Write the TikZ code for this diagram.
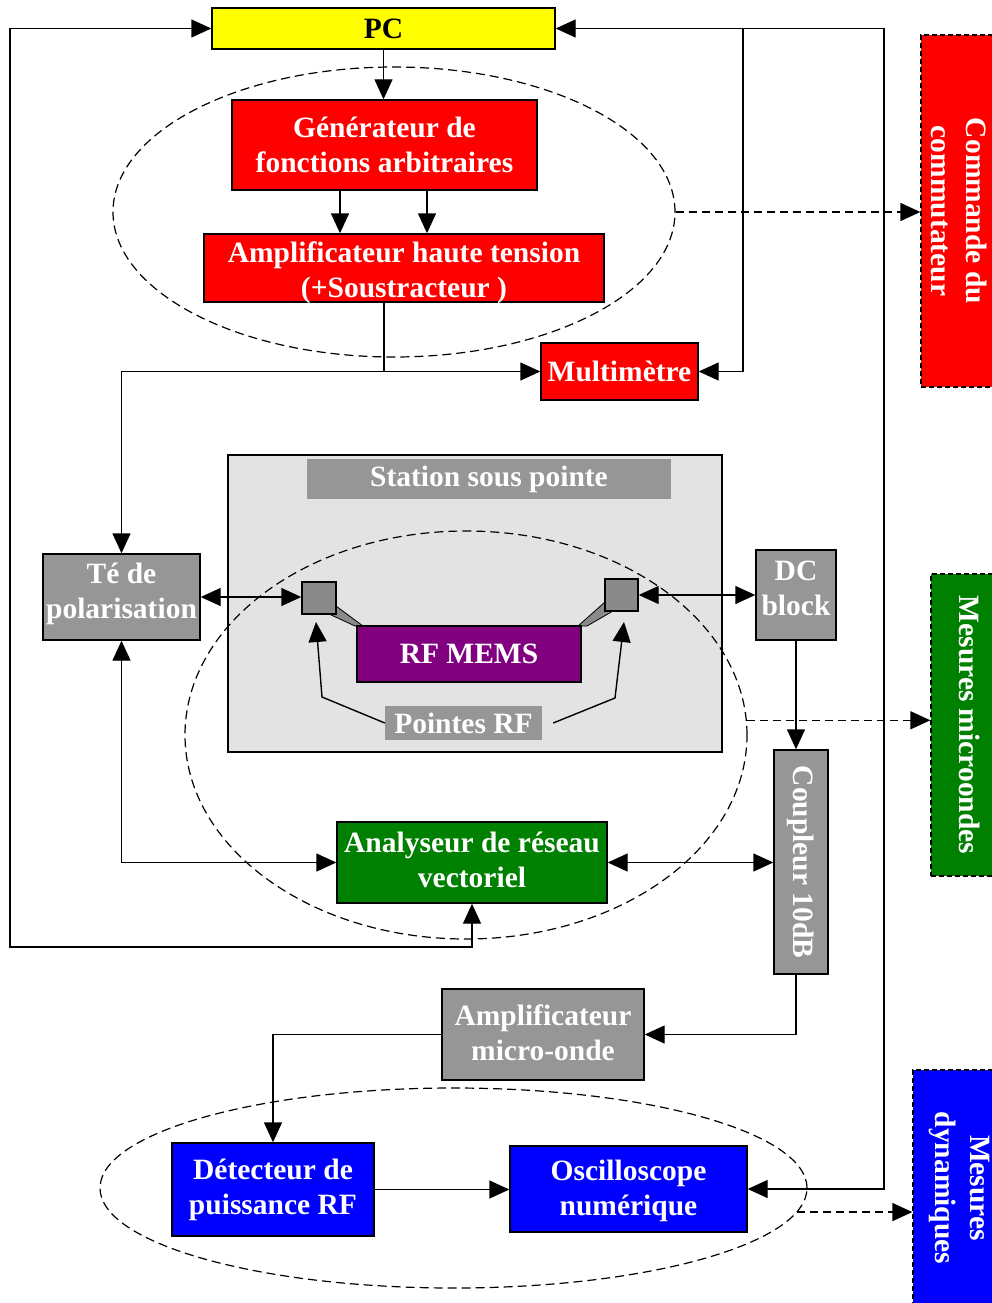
\documentclass[tikz,border=0pt]{standalone}
\usepackage{fontspec}
\setmainfont{Liberation Serif}
\usetikzlibrary{arrows.meta,shapes.geometric}
\definecolor{cyellow}{HTML}{FFFF00}
\definecolor{cred}{HTML}{FF0000}
\definecolor{cgray}{HTML}{969696}
\definecolor{clight}{HTML}{E3E3E3}
\definecolor{csq}{HTML}{8A8A8A}
\definecolor{cpurple}{HTML}{800080}
\definecolor{cgreen}{HTML}{008000}
\definecolor{cblue}{HTML}{0000FF}
\begin{document}
\begin{tikzpicture}[x=1pt,y=-1pt,
  every node/.style={font=\fontsize{29.5}{35}\selectfont\bfseries, align=center, inner sep=0pt},
  box/.style={draw=black, line width=1.4pt, rectangle},
  wtext/.style={text=white},
  ln/.style={line width=1.4pt},
  tip/.style={-{Triangle[length=20pt,width=18pt]}},
  arr/.style={tip, line width=1.4pt},
  darr/.style={{Triangle[length=20pt,width=18pt]}-{Triangle[length=20pt,width=18pt]}, line width=1.4pt},
  dsh/.style={dash pattern=on 8pt off 5pt, line width=1.5pt},
  ell/.style={draw, ellipse, dash pattern=on 9pt off 5pt, line width=1.2pt},
  side/.style={draw=black, dash pattern=on 5pt off 3pt, line width=1.3pt, rectangle}]
\useasboundingbox (0,0) rectangle (991,1303);
\fill[white] (0,0) rectangle (991,1303);

% station
\node[box, fill=clight, minimum width=494pt, minimum height=297pt] (station) at (475,603.5) {};
\node[fill=cgray, wtext, minimum width=364pt, minimum height=40pt] (stlabel) at (489,479) {Station sous pointe};

% ellipses
\node[ell, minimum width=562pt, minimum height=290pt] (e1) at (394,212) {};
\node[ell, minimum width=562pt, minimum height=408pt] (e2) at (466,735) {};
\node[ell, minimum width=707pt, minimum height=200pt] (e3) at (453.5,1188) {};

% boxes
\node[box, fill=cyellow, minimum width=343pt, minimum height=41pt] (pc) at (383.5,28.5) {PC};
\node[box, fill=cred, wtext, minimum width=305pt, minimum height=90pt] (gen) at (384.5,145) {Générateur de\\fonctions arbitraires};
\node[box, fill=cred, minimum width=400pt, minimum height=68pt] (amp) at (404,268) {};
\node[wtext] (amptext) at (404,273) {Amplificateur haute tension\\(+Soustracteur )};
\node[box, fill=cred, wtext, minimum width=157pt, minimum height=57pt] (multi) at (619.5,371.5) {Multimètre};
\node[box, fill=cgray, minimum width=157pt, minimum height=86pt] (te) at (121.5,597) {};
\node[wtext] (tetext) at (121.5,594) {Té de\\polarisation};

% wedges
\filldraw[fill=csq, draw=black, line width=0.8pt] (329,614) -- (336,606) -- (363,626) -- (355,626) -- cycle;
\filldraw[fill=csq, draw=black, line width=0.8pt] (605,602) -- (613,611) -- (587,626) -- (578,626) -- cycle;
\node[box, fill=csq, minimum width=34pt, minimum height=32pt] (sqL) at (319,598) {};
\node[box, fill=csq, minimum width=33pt, minimum height=32pt] (sqR) at (621.5,595) {};
\node[box, fill=cpurple, wtext, minimum width=224pt, minimum height=56pt] (mems) at (469,654) {RF MEMS};
\node[fill=cgray, wtext, minimum width=157pt, minimum height=34pt] (pointes) at (463.5,723) {Pointes RF};

\node[box, fill=cgray, minimum width=80pt, minimum height=90pt] (dcb) at (796,595) {};
\node[wtext] (dcbtext) at (796,588) {DC\\block};
\node[box, fill=cgray, minimum width=54pt, minimum height=224pt] (coup) at (801,862) {};
\node[rotate=-90, wtext] (couptext) at (coup.center) {Coupleur 10dB};
\node[box, fill=cgreen, minimum width=270pt, minimum height=81pt] (vna) at (472,862.5) {};
\node[wtext] (vnatext) at (472,859.5) {Analyseur de réseau\\vectoriel};
\node[box, fill=cgray, minimum width=202pt, minimum height=91pt] (ampmo) at (543,1034.5) {};
\node[wtext] (ampmotext) at (543,1032.5) {Amplificateur\\micro-onde};
\node[box, fill=cblue, wtext, minimum width=202pt, minimum height=93pt] (det) at (273,1189.5) {Détecteur de\\puissance RF};
\node[box, fill=cblue, minimum width=237pt, minimum height=86pt] (osc) at (628.5,1189) {};
\node[wtext] (osctext) at (628.5,1191) {Oscilloscope\\numérique};

% side boxes
\node[side, fill=cred, minimum width=80pt, minimum height=352pt] (cmdbox) at (961,211) {};
\node[rotate=-90, wtext] (cmdtext) at (959,211) {Commande du\\commutateur};
\node[side, fill=cgreen, minimum width=80pt, minimum height=302pt] (mesbox) at (971,725) {};
\node[rotate=-90, wtext] (mestext) at (970,725) {Mesures microondes};
\node[side, fill=cblue, minimum width=84pt, minimum height=240pt] (dynbox) at (955,1190) {};
\node[rotate=-90, wtext] (dyntext) at (959,1188) {Mesures\\dynamiques};

% coordinates
\coordinate (j1) at (384,371.5);
\coordinate (r1) at (884,28.5);
\coordinate (r2) at (743,28.5);
\coordinate (l1) at (10,947);
\coordinate (pl) at (322,697);
\coordinate (tl) at (316,622);
\coordinate (pr) at (615,698);
\coordinate (tr) at (624,622);

% connectors
\draw[arr] (pc.south) -- (pc.south |- gen.north);
\draw[arr] ([xshift=-44.5pt]gen.south) -- ([xshift=-44.5pt]gen.south |- amp.north);
\draw[arr] ([xshift=42.5pt]gen.south) -- ([xshift=42.5pt]gen.south |- amp.north);
\draw[ln] ([xshift=-20pt]amp.south) -- (j1);
\draw[arr] (j1) -| (te.north);
\draw[arr] (j1) -- (multi.west);
\draw[arr] (r1) -- (pc.east);
\draw[arr] (r2) |- (multi.east);
\draw[arr] (r1) |- (osc.east);
\draw[darr] (pc.west) -| (l1) -| (vna.south);
\draw[darr] (te.east) -- (te.east -| sqL.west);
\draw[darr] (sqR.east) -- (sqR.east -| dcb.west);
\draw[arr] (dcb.south) -- (dcb.south |- coup.north);
\draw[darr] (vna.east) -- (vna.east -| coup.west);
\draw[darr] (te.south) |- (vna.west);
\draw[arr] ([xshift=-5pt]coup.south) |- (ampmo.east);
\draw[arr] (ampmo.west) -| (det.north);
\draw[arr] (det.east) -- (det.east -| osc.west);
\draw[arr] (pointes.west) -- (pl) -- (tl);
\draw[arr] ([xshift=11pt]pointes.east) -- (pr) -- (tr);

% dashed arrows
\draw[dsh, tip] (e1.east) -- (e1.east -| cmdbox.west);
\draw[dsh, tip] (e2.3) -- (e2.3 -| mesbox.west);
\draw[dsh, tip] (e3.-4.4) -- (e3.-4.4 -| dynbox.west);
\end{tikzpicture}
\end{document}
